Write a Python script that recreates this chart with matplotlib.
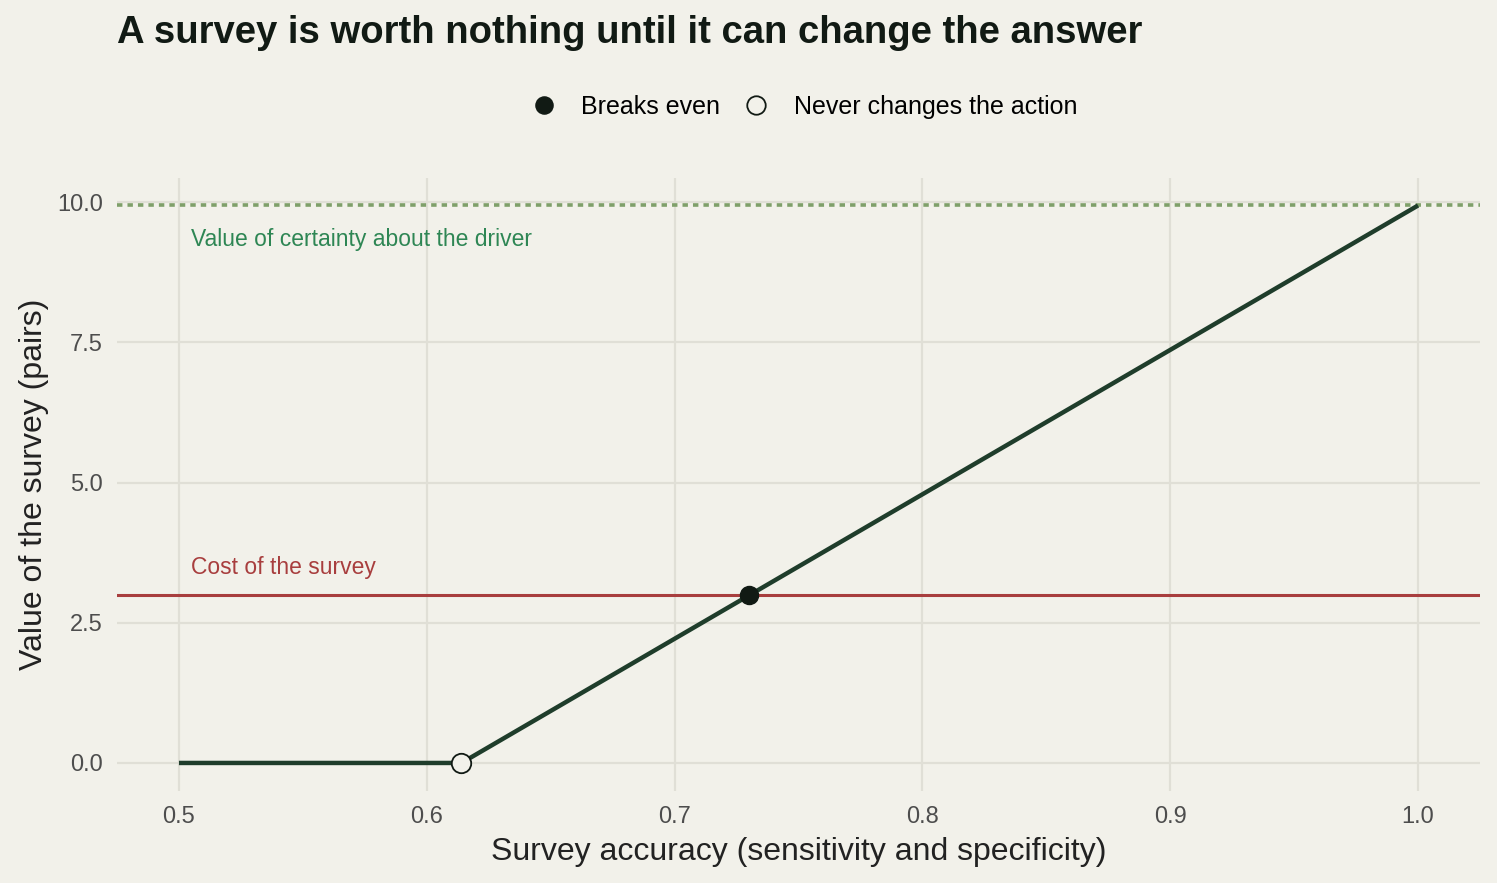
import matplotlib.pyplot as plt

plt.rcParams['font.family'] = ['Liberation Sans', 'DejaVu Sans']

# survey value curve
accuracy = [0.5, 0.614, 1.0]
value = [0, 0, 9.94]

survey_cost = 3.0
certainty_value = 9.94

break_even = (0.730, 3.0)
never_changes = (0.614, 0.0)

x_ticks = [0.5, 0.6, 0.7, 0.8, 0.9, 1.0]
y_ticks = [0.0, 2.5, 5.0, 7.5, 10.0]

bg = '#F2F1EA'
grid_col = '#E0DFD6'
line_col = '#1F3D2B'
dark = '#111A14'

fig = plt.figure(figsize=(14.97, 8.83), dpi=100, facecolor=bg)
ax = fig.add_axes([117 / 1497, 92 / 883, 1363 / 1497, 613 / 883], facecolor=bg)

for s in ax.spines.values():
    s.set_visible(False)
ax.set_xlim(0.475, 1.025)
ax.set_ylim(-0.5, 10.43)
ax.set_xticks(x_ticks)
ax.set_yticks(y_ticks)
ax.set_xticklabels([f'{t:.1f}' for t in x_ticks])
ax.set_yticklabels([f'{t:.1f}' for t in y_ticks])
ax.grid(True, color=grid_col, linewidth=1.6)
ax.set_axisbelow(True)
ax.tick_params(length=0, labelsize=17, labelcolor='#4D4D4D')
ax.tick_params(axis='x', pad=11)
ax.tick_params(axis='y', pad=10)

ax.axhline(certainty_value, color='#7FA06A', linewidth=2.6, linestyle=(0, (1.5, 1.4)), zorder=2)
ax.axhline(survey_cost, color='#A83E3E', linewidth=2.2, zorder=2)

ax.plot(accuracy, value, color=line_col, linewidth=3.2, solid_capstyle='butt', zorder=3)

ax.plot(*break_even, 'o', color=dark, markersize=13, zorder=4, label='Breaks even')
ax.plot(*never_changes, 'o', markerfacecolor=bg, markeredgecolor=dark, markeredgewidth=1.3,
        markersize=14, zorder=4, label='Never changes the action')

ax.text(0.505, certainty_value - 0.6, 'Value of certainty about the driver', color='#2E8654',
        fontsize=16.5, va='center', ha='left')
ax.text(0.505, survey_cost + 0.48, 'Cost of the survey', color='#A83E3E',
        fontsize=16.5, va='center', ha='left')

ax.set_xlabel('Survey accuracy (sensitivity and specificity)', fontsize=23, color='#222222', labelpad=6)
ax.set_ylabel('Value of the survey (pairs)', fontsize=23, color='#222222', labelpad=6)

fig.text(117 / 1497, 1 - 33 / 883, 'A survey is worth nothing until it can change the answer',
         fontsize=27.5, fontweight='bold', color=dark, va='center', ha='left')

fig.legend(loc='center', bbox_to_anchor=(798 / 1497, 1 - 107 / 883), ncol=2, frameon=False,
           fontsize=18, handletextpad=0.5, columnspacing=0.45, markerscale=0.95)

fig.savefig('out.png', dpi=100, facecolor=bg)
